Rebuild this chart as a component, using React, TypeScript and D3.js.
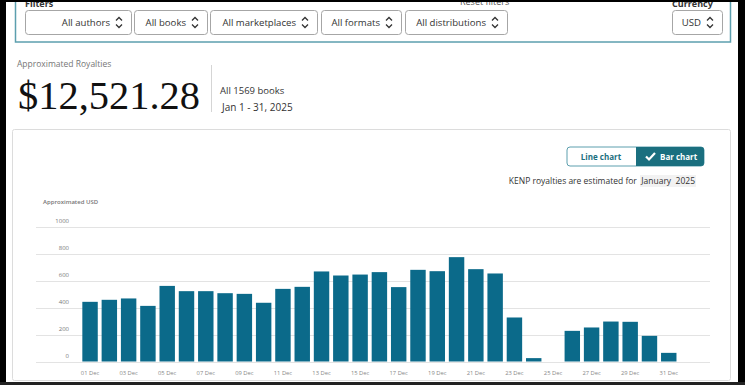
import { useRef, useEffect } from 'react';
import * as d3 from 'd3';

const days = [
  '01 Dec', '02 Dec', '03 Dec', '04 Dec', '05 Dec', '06 Dec', '07 Dec', '08 Dec',
  '09 Dec', '10 Dec', '11 Dec', '12 Dec', '13 Dec', '14 Dec', '15 Dec', '16 Dec',
  '17 Dec', '18 Dec', '19 Dec', '20 Dec', '21 Dec', '22 Dec', '23 Dec', '24 Dec',
  '25 Dec', '26 Dec', '27 Dec', '28 Dec', '29 Dec', '30 Dec', '31 Dec',
];
const royalties = [
  442, 457, 467, 412, 560, 521, 521, 506, 501, 435, 538, 553, 667, 637, 644, 662,
  551, 679, 669, 773, 684, 652, 326, 25, 0, 227, 252, 296, 294, 190, 64,
];
const yTicks = [0, 200, 400, 600, 800, 1000];
const filterLabels = ['All authors', 'All books', 'All marketplaces', 'All formats', 'All distributions'];
const filterEdges = [[25, 131], [134, 207], [210, 317], [321, 401], [405, 507]];

const FONT = '"Open Sans", sans-serif';
const TEAL = '#0b6a8a';

export default function App() {
  const svgRef = useRef<SVGSVGElement>(null);

  useEffect(() => {
    if (!svgRef.current) return;
    const width = 745;
    const height = 385;
    const svg = d3.select(svgRef.current);
    svg.selectAll('*').remove();
    svg.attr('width', width).attr('height', height);

    svg.append('rect').attr('width', width).attr('height', height).attr('fill', '#fff');

    // Filters panel (top is cut off in the screenshot)
    svg.append('rect')
      .attr('x', 15.5).attr('y', -10).attr('width', 715).attr('height', 52)
      .attr('fill', 'none').attr('stroke', '#5c9fae').attr('stroke-width', 1.5);
    svg.append('text').attr('x', 25).attr('y', 7).attr('font-family', FONT)
      .attr('font-size', 9).attr('font-weight', 700).attr('fill', '#333').text('Filters');
    svg.append('text').attr('x', 460).attr('y', 5).attr('font-family', FONT)
      .attr('font-size', 9).attr('fill', '#555').text('Reset filters');
    svg.append('text').attr('x', 672).attr('y', 7).attr('font-family', FONT)
      .attr('font-size', 9).attr('font-weight', 700).attr('fill', '#333').text('Currency');

    const drawSelect = (label: string, x0: number, x1: number) => {
      const g = svg.append('g');
      g.append('rect')
        .attr('x', x0 + 0.5).attr('y', 10.5).attr('width', x1 - x0).attr('height', 24)
        .attr('rx', 3).attr('fill', '#fff').attr('stroke', '#a6a6a6');
      const cx = x1 - 12;
      g.append('text')
        .attr('x', cx - 9).attr('y', 25.5).attr('text-anchor', 'end')
        .attr('font-family', FONT).attr('font-size', 9.6).attr('fill', '#333').text(label);
      g.append('path')
        .attr('d', `M${cx - 3},${20.5} L${cx},${17.5} L${cx + 3},${20.5} M${cx - 3},${24.5} L${cx},${27.5} L${cx + 3},${24.5}`)
        .attr('fill', 'none').attr('stroke', '#333').attr('stroke-width', 1.3);
    };
    filterLabels.forEach((l, i) => drawSelect(l, filterEdges[i][0], filterEdges[i][1]));
    drawSelect('USD', 672, 722);

    // Summary
    svg.append('text').attr('x', 17).attr('y', 67).attr('font-family', FONT)
      .attr('font-size', 8.5).attr('fill', '#767676').text('Approximated Royalties');
    svg.append('text').attr('x', 18).attr('y', 108.5)
      .attr('font-family', '"Liberation Serif", serif').attr('font-size', 41)
      .attr('textLength', 182).attr('lengthAdjust', 'spacingAndGlyphs')
      .attr('fill', '#111').text('$12,521.28');
    svg.append('line').attr('x1', 211.5).attr('x2', 211.5).attr('y1', 65).attr('y2', 112)
      .attr('stroke', '#d5d5d5');
    svg.append('text').attr('x', 220).attr('y', 94).attr('font-family', FONT)
      .attr('font-size', 9.5).attr('fill', '#333').text('All 1569 books');
    svg.append('text').attr('x', 222).attr('y', 111).attr('font-family', FONT)
      .attr('font-size', 10).attr('fill', '#333').text('Jan 1 - 31, 2025');

    // Chart card
    svg.append('rect').attr('x', 12.5).attr('y', 129.5).attr('width', 718).attr('height', 251)
      .attr('rx', 2).attr('fill', '#fff').attr('stroke', '#dcdcdc');

    // Line / bar toggle
    svg.append('rect').attr('x', 567).attr('y', 147).attr('width', 137).attr('height', 19)
      .attr('rx', 3).attr('fill', '#fff').attr('stroke', '#5c9fae');
    svg.append('path')
      .attr('d', 'M636,147 H701 A3,3 0 0 1 704,150 V163 A3,3 0 0 1 701,166 H636 Z')
      .attr('fill', '#1a6f7f');
    svg.append('text').attr('x', 601).attr('y', 159.5).attr('text-anchor', 'middle')
      .attr('font-family', FONT).attr('font-size', 8).attr('font-weight', 700)
      .attr('fill', '#1a6f7f').text('Line chart');
    svg.append('path').attr('d', 'M646,156.5 L649,159.5 L655,153')
      .attr('fill', 'none').attr('stroke', '#fff').attr('stroke-width', 2.2);
    svg.append('text').attr('x', 660).attr('y', 159.5)
      .attr('font-family', FONT).attr('font-size', 8).attr('font-weight', 700)
      .attr('fill', '#fff').text('Bar chart');

    svg.append('rect').attr('x', 640).attr('y', 175).attr('width', 56).attr('height', 12)
      .attr('fill', '#f2f2f2');
    svg.append('text').attr('x', 695).attr('y', 184).attr('text-anchor', 'end')
      .attr('font-family', FONT).attr('font-size', 8.5).attr('fill', '#333')
      .attr('xml:space', 'preserve')
      .text('KENP royalties are estimated for  January  2025');

    // Bar chart
    const x = d3.scaleBand<string>().domain(days).range([80.4, 678.4])
      .paddingInner(0.2).paddingOuter(0.1);
    const y = d3.scaleLinear().domain([0, 1000]).range([361.5, 226.5]);

    const g = svg.append('g');
    g.selectAll('.grid').data(yTicks).join('line')
      .attr('x1', 36).attr('x2', 710)
      .attr('y1', (d) => Math.round(y(d)) + 0.5).attr('y2', (d) => Math.round(y(d)) + 0.5)
      .attr('stroke', '#e3e3e3');
    g.selectAll('.ylab').data(yTicks).join('text')
      .attr('x', 69).attr('y', (d) => y(d) - 3.5).attr('text-anchor', 'end')
      .attr('font-family', FONT).attr('font-size', 6).attr('fill', '#777')
      .text((d) => String(d));
    g.append('text').attr('x', 43).attr('y', 204).attr('font-family', FONT)
      .attr('font-size', 6).attr('font-weight', 600).attr('fill', '#777').text('Approximated USD');

    g.selectAll('.bar').data(royalties).join('rect')
      .attr('x', (_, i) => x(days[i]) || 0)
      .attr('width', x.bandwidth())
      .attr('y', (d) => y(d))
      .attr('height', (d) => y(0) - y(d))
      .attr('fill', TEAL);

    g.selectAll('.xlab').data(days.filter((_, i) => i % 2 === 0)).join('text')
      .attr('x', (d) => (x(d) || 0) + x.bandwidth() / 2)
      .attr('y', 375).attr('text-anchor', 'middle')
      .attr('font-family', FONT).attr('font-size', 5.8).attr('fill', '#888')
      .text((d) => d);

    // dark screenshot frame
    svg.append('rect').attr('x', 0).attr('y', 0).attr('width', 6).attr('height', height).attr('fill', '#000');
    svg.append('rect').attr('x', 738).attr('y', 0).attr('width', 7).attr('height', height).attr('fill', '#000');
    svg.append('rect').attr('x', 0).attr('y', 0).attr('width', width).attr('height', 2).attr('fill', '#000');
    svg.append('rect').attr('x', 0).attr('y', 382).attr('width', width).attr('height', 3).attr('fill', '#222');
  }, []);

  return (
    <div style={{ position: 'absolute', left: 0, top: 0 }}>
      <svg ref={svgRef} style={{ display: 'block' }} />
    </div>
  );
}
